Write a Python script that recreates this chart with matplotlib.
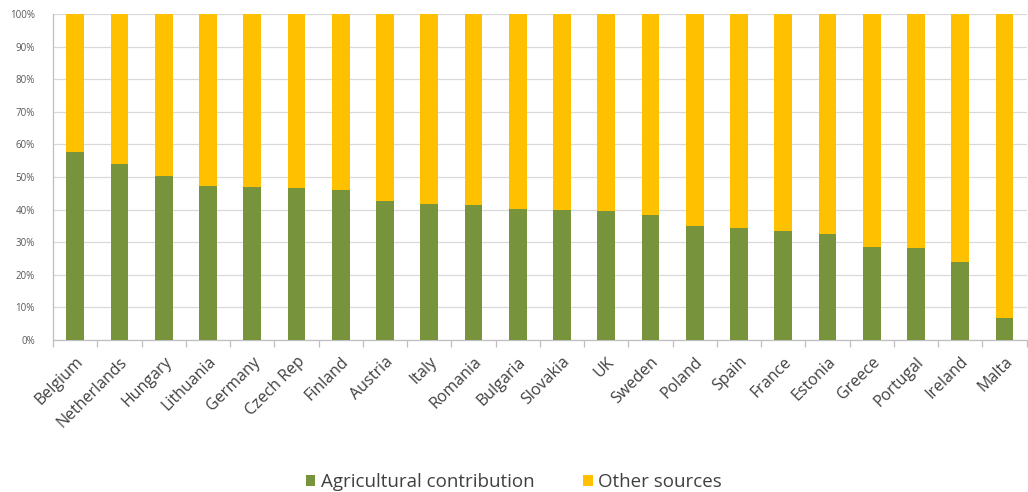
import numpy as np
import matplotlib
matplotlib.use('Agg')
import matplotlib.pyplot as plt
from matplotlib.ticker import FixedLocator, PercentFormatter

countries = ['Belgium', 'Netherlands', 'Hungary', 'Lithuania', 'Germany', 'Czech Rep',
             'Finland', 'Austria', 'Italy', 'Romania', 'Bulgaria', 'Slovakia', 'UK',
             'Sweden', 'Poland', 'Spain', 'France', 'Estonia', 'Greece', 'Portugal',
             'Ireland', 'Malta']
agri = [57.6, 53.9, 50.4, 47.3, 47.0, 46.7, 46.0, 42.7, 41.7, 41.4, 40.3,
        39.9, 39.7, 38.3, 35.0, 34.3, 33.5, 32.4, 28.6, 28.1, 24.0, 6.7]
other = [100 - a for a in agri]

green = '#77933c'
yellow = '#ffc000'

plt.rcParams['font.family'] = ['Open Sans', 'DejaVu Sans']

fig = plt.figure(figsize=(10.28, 4.92), dpi=100)
ax = fig.add_axes([0.0516, 0.309, 0.947, 0.6625])

x = np.arange(len(countries))
ax.bar(x, agri, width=0.4, color=green, label='Agricultural contribution', zorder=3)
ax.bar(x, other, width=0.4, bottom=agri, color=yellow, label='Other sources', zorder=3)

ax.set_xlim(-0.5, len(countries) - 0.5)
ax.set_ylim(0, 100)
ax.set_yticks(np.arange(0, 101, 10))
ax.yaxis.set_major_formatter(PercentFormatter(decimals=0))
ax.tick_params(axis='y', length=0, labelsize=7, labelcolor='#595959', pad=13)
ax.grid(axis='y', color='#d9d9d9', linewidth=0.9, zorder=0)

ax.set_xticks(x)
ax.set_xticklabels(countries, rotation=45, ha='right', rotation_mode='anchor',
                   fontsize=11.5, color='#404040')
ax.tick_params(axis='x', which='major', length=0, pad=10)
ax.xaxis.set_minor_locator(FixedLocator(np.arange(-0.5, len(countries), 1)))
ax.tick_params(axis='x', which='minor', length=5, color='#bfbfbf', width=0.9)

for s in ['top', 'right']:
    ax.spines[s].set_visible(False)
for s in ['left', 'bottom']:
    ax.spines[s].set_color('#bfbfbf')
    ax.spines[s].set_linewidth(0.9)

fig.legend(loc='lower center', bbox_to_anchor=(0.5, -0.033), ncol=2, frameon=False,
           fontsize=13.5, handlelength=0.5, handleheight=0.5, handletextpad=0.3,
           columnspacing=2.6, labelcolor='#404040')

fig.savefig('out.png', dpi=100)
